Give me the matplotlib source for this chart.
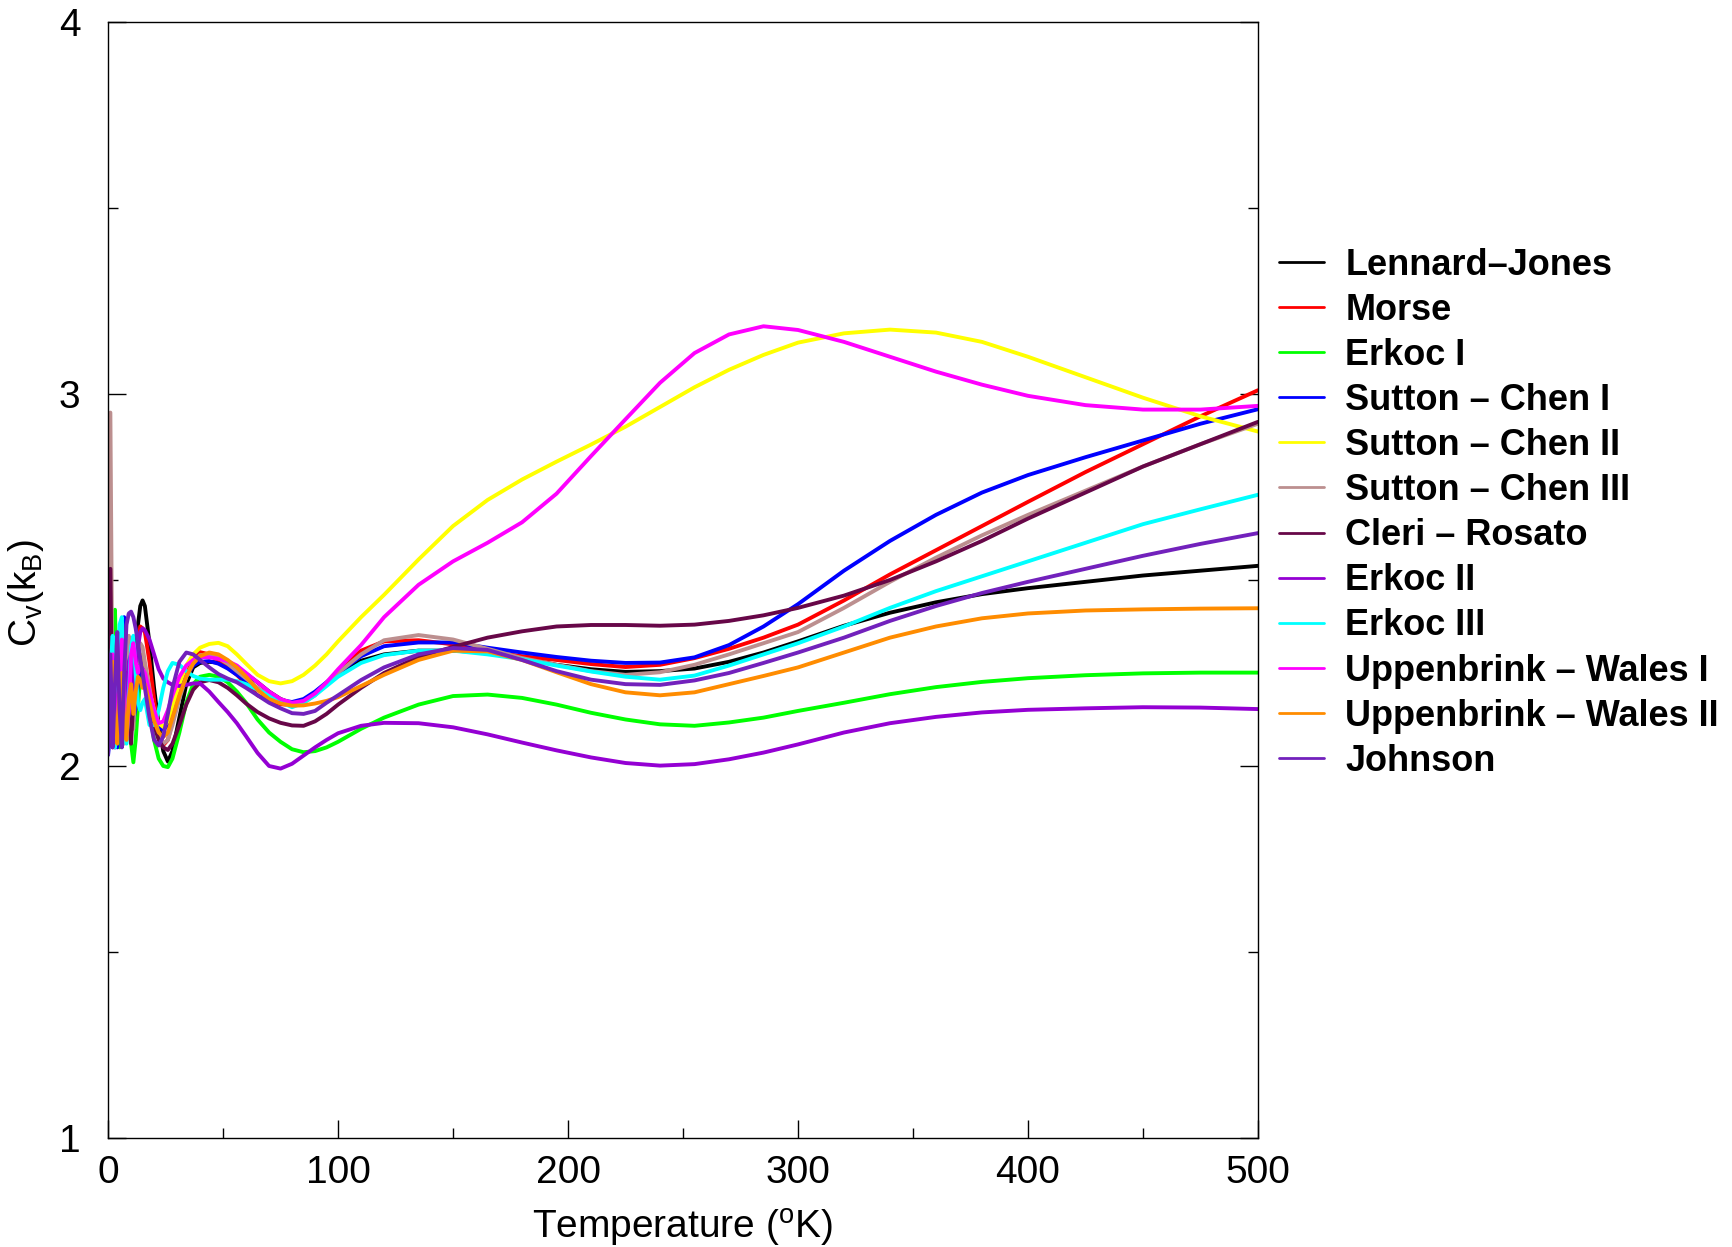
import numpy as np
import matplotlib
matplotlib.use("Agg")
import matplotlib.pyplot as plt
from matplotlib.ticker import MultipleLocator

plt.rcParams['font.family'] = ['Liberation Sans', 'DejaVu Sans']
plt.rcParams['mathtext.fontset'] = 'custom'
plt.rcParams['mathtext.rm'] = 'Liberation Sans'
plt.rcParams['mathtext.it'] = 'Liberation Sans:italic'

# temperature grid (K)
temperature = [0, 1, 2, 3, 4, 5, 6, 7, 8, 9, 10, 11, 12, 13, 14, 15,
               16, 18, 20, 22, 24, 26, 28, 31, 34, 37, 40, 44, 48, 52, 56, 60,
               65, 70, 75, 80, 85, 90, 95, 100,
               110, 120, 135, 150, 165, 180, 195, 210, 225, 240, 255, 270, 285,
               300, 320, 340, 360, 380, 400, 425, 450, 475, 500]

# heat capacity C_v in units of k_B, one list per potential
lennard_jones = [2.08, 2.20, 2.35, 2.38, 2.15, 2.07, 2.25, 2.33, 2.12, 2.10, 2.28, 2.20, 2.30, 2.38, 2.43, 2.445,
                 2.43, 2.33, 2.21, 2.11, 2.04, 2.012, 2.04, 2.13, 2.22, 2.265, 2.277, 2.28, 2.278, 2.273, 2.262, 2.248,
                 2.225, 2.20, 2.18, 2.168, 2.175, 2.195, 2.22, 2.245,
                 2.283, 2.30, 2.31, 2.31, 2.305, 2.29, 2.272, 2.26, 2.253, 2.255, 2.262, 2.28, 2.305,
                 2.335, 2.377, 2.412, 2.44, 2.462, 2.478, 2.495, 2.512, 2.525, 2.538]
morse = [2.06, 2.25, 2.10, 2.30, 2.12, 2.08, 2.28, 2.15, 2.09, 2.26, 2.30, 2.15, 2.22, 2.33, 2.375, 2.37,
         2.36, 2.28, 2.18, 2.09, 2.056, 2.07, 2.12, 2.20, 2.26, 2.295, 2.306, 2.30, 2.285, 2.265, 2.245, 2.22,
         2.19, 2.175, 2.166, 2.164, 2.175, 2.195, 2.223, 2.255,
         2.31, 2.335, 2.338, 2.327, 2.308, 2.295, 2.285, 2.274, 2.266, 2.272, 2.29, 2.315, 2.345,
         2.38, 2.445, 2.515, 2.58, 2.645, 2.71, 2.79, 2.865, 2.94, 3.01]
erkoc_1 = [2.05, 2.22, 2.38, 2.42, 2.15, 2.05, 2.20, 2.10, 2.08, 2.15, 2.06, 2.01, 2.07, 2.16, 2.24, 2.26,
           2.24, 2.15, 2.07, 2.02, 2.0, 1.997, 2.02, 2.09, 2.17, 2.22, 2.24, 2.245, 2.24, 2.225, 2.20, 2.17,
           2.125, 2.09, 2.065, 2.045, 2.037, 2.04, 2.05, 2.065,
           2.10, 2.13, 2.165, 2.188, 2.192, 2.183, 2.165, 2.143, 2.125, 2.112, 2.108, 2.117, 2.13,
           2.148, 2.17, 2.193, 2.212, 2.226, 2.236, 2.244, 2.249, 2.251, 2.251]
sutton_chen_1 = [2.03, 2.10, 2.25, 2.08, 2.05, 2.30, 2.39, 2.40, 2.22, 2.10, 2.18, 2.12, 2.16, 2.22, 2.28, 2.29,
                 2.25, 2.19, 2.14, 2.105, 2.097, 2.11, 2.15, 2.20, 2.24, 2.27, 2.28, 2.282, 2.275, 2.262, 2.245, 2.228,
                 2.205, 2.19, 2.177, 2.172, 2.18, 2.20, 2.225, 2.25,
                 2.295, 2.322, 2.332, 2.332, 2.318, 2.305, 2.293, 2.283, 2.277, 2.278, 2.292, 2.325, 2.375,
                 2.435, 2.525, 2.605, 2.675, 2.735, 2.782, 2.83, 2.875, 2.92, 2.959]
sutton_chen_2 = [2.10, 2.18, 2.28, 2.15, 2.08, 2.22, 2.30, 2.15, 2.10, 2.20, 2.26, 2.20, 2.24, 2.28, 2.30, 2.29,
                 2.25, 2.20, 2.15, 2.115, 2.105, 2.12, 2.16, 2.22, 2.27, 2.30, 2.318, 2.328, 2.331, 2.322, 2.30, 2.275,
                 2.245, 2.228, 2.222, 2.228, 2.245, 2.27, 2.30, 2.335,
                 2.40, 2.46, 2.555, 2.645, 2.715, 2.77, 2.818, 2.864, 2.912, 2.965, 3.018, 3.065, 3.105,
                 3.138, 3.163, 3.173, 3.165, 3.14, 3.10, 3.045, 2.99, 2.94, 2.899]
sutton_chen_3 = [2.30, 2.95, 2.10, 2.05, 2.33, 2.36, 2.12, 2.06, 2.28, 2.35, 2.20, 2.10, 2.22, 2.30, 2.33, 2.32,
                 2.28, 2.21, 2.14, 2.085, 2.06, 2.07, 2.11, 2.18, 2.24, 2.28, 2.298, 2.30, 2.29, 2.275, 2.255, 2.235,
                 2.21, 2.19, 2.175, 2.167, 2.17, 2.19, 2.22, 2.25,
                 2.30, 2.338, 2.352, 2.34, 2.315, 2.29, 2.272, 2.255, 2.245, 2.252, 2.272, 2.30, 2.33,
                 2.36, 2.425, 2.495, 2.56, 2.62, 2.675, 2.74, 2.805, 2.865, 2.92]
cleri_rosato = [2.04, 2.53, 2.05, 2.10, 2.28, 2.20, 2.08, 2.15, 2.25, 2.10, 2.06, 2.18, 2.24, 2.26, 2.27, 2.26,
                2.23, 2.17, 2.11, 2.07, 2.05, 2.043, 2.06, 2.11, 2.165, 2.205, 2.225, 2.231, 2.225, 2.21, 2.19, 2.168,
                2.145, 2.128, 2.116, 2.109, 2.108, 2.12, 2.14, 2.165,
                2.21, 2.25, 2.293, 2.32, 2.345, 2.362, 2.375, 2.379, 2.379, 2.377, 2.38, 2.39, 2.405,
                2.425, 2.458, 2.50, 2.55, 2.605, 2.665, 2.735, 2.805, 2.865, 2.925]
erkoc_2 = [2.05, 2.20, 2.12, 2.05, 2.18, 2.25, 2.15, 2.08, 2.20, 2.28, 2.30, 2.20, 2.25, 2.32, 2.36, 2.37,
           2.365, 2.34, 2.30, 2.26, 2.235, 2.225, 2.218, 2.215, 2.218, 2.222, 2.222, 2.20, 2.172, 2.145, 2.115, 2.08,
           2.035, 2.0, 1.993, 2.006, 2.028, 2.05, 2.07, 2.088,
           2.108, 2.116, 2.115, 2.104, 2.085, 2.063, 2.042, 2.023, 2.008, 2.001, 2.005, 2.018, 2.036,
           2.058, 2.09, 2.115, 2.132, 2.144, 2.151, 2.155, 2.158, 2.157, 2.153]
erkoc_3 = [2.10, 2.25, 2.35, 2.05, 2.15, 2.38, 2.40, 2.20, 2.06, 2.18, 2.32, 2.35, 2.25, 2.17, 2.15, 2.17,
           2.18, 2.11, 2.11, 2.15, 2.21, 2.255, 2.277, 2.272, 2.255, 2.242, 2.235, 2.232, 2.232, 2.232, 2.228, 2.22,
           2.205, 2.19, 2.172, 2.158, 2.17, 2.19, 2.215, 2.24,
           2.277, 2.298, 2.31, 2.31, 2.30, 2.287, 2.27, 2.254, 2.24, 2.232, 2.243, 2.27, 2.30,
           2.33, 2.375, 2.425, 2.47, 2.51, 2.55, 2.60, 2.65, 2.69, 2.729]
uppenbrink_wales_1 = [2.12, 2.20, 2.30, 2.18, 2.10, 2.25, 2.34, 2.20, 2.08, 2.15, 2.30, 2.33, 2.28, 2.25, 2.27, 2.26,
                      2.25, 2.20, 2.15, 2.115, 2.12, 2.15, 2.19, 2.24, 2.27, 2.285, 2.293, 2.292, 2.288, 2.282, 2.27, 2.25,
                      2.225, 2.20, 2.18, 2.17, 2.175, 2.195, 2.225, 2.26,
                      2.325, 2.40, 2.487, 2.55, 2.60, 2.655, 2.732, 2.833, 2.932, 3.03, 3.11, 3.16, 3.182,
                      3.172, 3.14, 3.10, 3.06, 3.025, 2.995, 2.97, 2.958, 2.958, 2.968]
uppenbrink_wales_2 = [2.05, 2.16, 2.28, 2.10, 2.06, 2.20, 2.25, 2.12, 2.07, 2.18, 2.22, 2.14, 2.20, 2.24, 2.23, 2.21,
                      2.22, 2.17, 2.12, 2.09, 2.078, 2.09, 2.13, 2.19, 2.24, 2.275, 2.295, 2.305, 2.30, 2.285, 2.265, 2.24,
                      2.205, 2.18, 2.168, 2.162, 2.163, 2.168, 2.175, 2.185,
                      2.215, 2.245, 2.285, 2.31, 2.308, 2.285, 2.252, 2.22, 2.198, 2.19, 2.198, 2.22, 2.242,
                      2.265, 2.305, 2.345, 2.375, 2.397, 2.41, 2.418, 2.421, 2.423, 2.424]
johnson = [2.03, 2.30, 2.05, 2.22, 2.36, 2.15, 2.05, 2.25, 2.38, 2.41, 2.415, 2.40, 2.37, 2.33, 2.29, 2.25,
           2.21, 2.13, 2.07, 2.055, 2.08, 2.14, 2.21, 2.28, 2.305, 2.30, 2.285, 2.265, 2.247, 2.235, 2.225, 2.21,
           2.19, 2.17, 2.155, 2.142, 2.14, 2.148, 2.17, 2.19,
           2.231, 2.265, 2.30, 2.317, 2.312, 2.285, 2.255, 2.232, 2.22, 2.218, 2.23, 2.25, 2.277,
           2.305, 2.345, 2.39, 2.43, 2.465, 2.495, 2.53, 2.565, 2.597, 2.626]

labels = ['Lennard\u2013Jones', 'Morse', 'Erkoc I', 'Sutton \u2013 Chen I', 'Sutton \u2013 Chen II',
          'Sutton \u2013 Chen III', 'Cleri \u2013 Rosato', 'Erkoc II', 'Erkoc III',
          'Uppenbrink \u2013 Wales I', 'Uppenbrink \u2013 Wales II', 'Johnson']
series = [lennard_jones, morse, erkoc_1, sutton_chen_1, sutton_chen_2, sutton_chen_3,
          cleri_rosato, erkoc_2, erkoc_3, uppenbrink_wales_1, uppenbrink_wales_2, johnson]
colors = ['#000000', '#ff0000', '#00ff00', '#0000ff', '#ffff00', '#bc8f8f',
          '#670748', '#9400d3', '#00ffff', '#ff00ff', '#ff8c00', '#7221bc']

fig = plt.figure(figsize=(17.32, 12.47), dpi=100)
ax = fig.add_axes([0.0624, 0.0874, 0.6639, 0.895])

lines = []
for cv, lab, col in zip(series, labels, colors):
    ln, = ax.plot(temperature, cv, color=col, lw=2.8, label=lab,
                  solid_joinstyle='round', solid_capstyle='round')
    lines.append(ln)

ax.set_xlim(0, 500)
ax.set_ylim(1, 4)
ax.xaxis.set_major_locator(MultipleLocator(100))
ax.xaxis.set_minor_locator(MultipleLocator(50))
ax.yaxis.set_major_locator(MultipleLocator(1))
ax.yaxis.set_minor_locator(MultipleLocator(0.5))
ax.tick_params(which='both', direction='in', right=True, top=False, width=1.0)
ax.tick_params(which='major', length=13, labelsize=28)
ax.tick_params(which='minor', length=7)
ax.tick_params(axis='x', which='major', pad=12)
ax.tick_params(axis='y', which='major', pad=20)
for sp in ax.spines.values():
    sp.set_linewidth(1.0)

ax.set_xlabel(r'Temperature ($^{\rm o}$K)', fontsize=28, labelpad=12)
ax.set_ylabel(r'C$_{\rm v}$(k$_{\rm B}$)', fontsize=28)
ax.yaxis.set_label_coords(-0.054, 0.488)

fig.legend(handles=lines, loc='upper left', bbox_to_anchor=(0.7385, 0.8015),
           frameon=False, borderpad=0, borderaxespad=0,
           prop={'family': 'Liberation Sans', 'weight': 'bold', 'size': 26},
           handlelength=1.25, handletextpad=0.58, labelspacing=0.28)
for h in fig.legends[0].legend_handles:
    h.set_linewidth(2.0)

fig.savefig('out.png', dpi=100)
